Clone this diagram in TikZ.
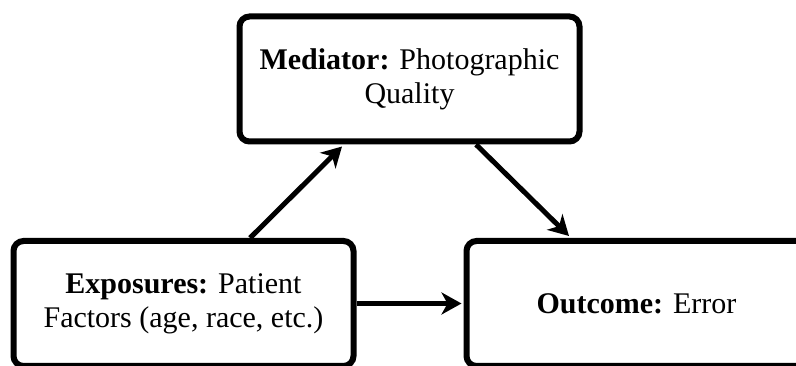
\documentclass[tikz,border=0pt]{standalone}
\usepackage{fontspec}
\setmainfont{Liberation Serif}
\usepackage{tikz}
\usetikzlibrary{arrows.meta,positioning}

\begin{document}
\begin{tikzpicture}[x=1pt,y=-1pt,
  factor/.style={draw,line width=6pt,rounded corners=10pt,align=center,
    minimum width=340pt,minimum height=125pt,inner sep=0pt,
    font=\fontsize{30}{34}\selectfont},
  flow/.style={-{Stealth[length=20pt,width=22pt,inset=6pt]},line width=5pt}]
\useasboundingbox (0,0) rectangle (796,366);
\node[factor] (medi) at (409.5,79) {\textbf{Mediator:} Photographic\\Quality};
\node[factor] (expo) at (183.5,303.5) {\textbf{Exposures:} Patient\\Factors (age, race, etc.)};
\node[factor] (outc) at (636.5,303.5) {\textbf{Outcome:} Error};
\draw[flow] ([xshift=66.5pt]expo.north) -- ([xshift=-67.5pt,yshift=-2pt]medi.south);
\draw[flow] ([xshift=66.5pt]medi.south) -- ([xshift=-67.5pt,yshift=2pt]outc.north);
\draw[flow] (expo.east) -- ([xshift=-2pt]outc.west);
\end{tikzpicture}
\end{document}
